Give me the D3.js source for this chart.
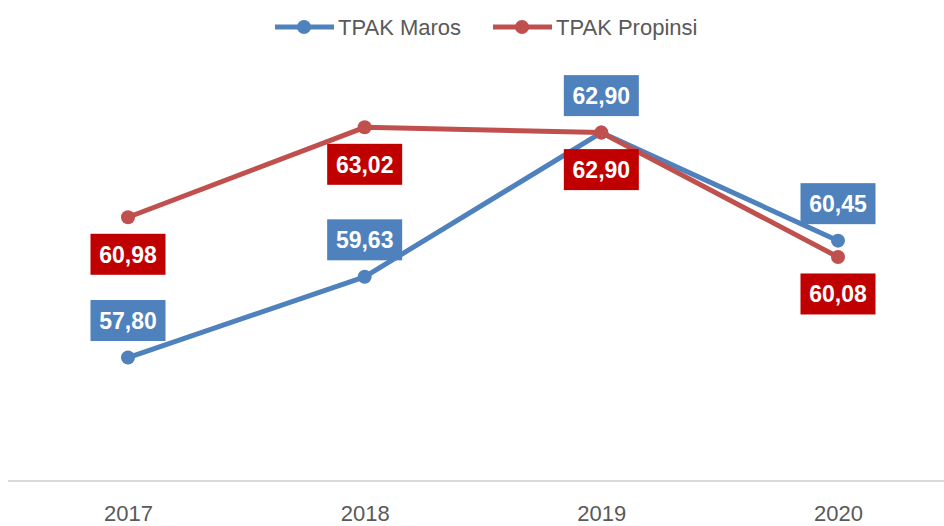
<!DOCTYPE html>
<html>
<head>
<meta charset="utf-8">
<script src="https://cdn.jsdelivr.net/npm/d3@7"></script>
<style>
  body { margin: 0; background: #fff; }
  text { font-family: 'Liberation Sans', Arial, sans-serif; }
</style>
</head>
<body>
<div id="chart"></div>
<script>
const years = ['2017', '2018', '2019', '2020']
const maros = [57.80, 59.63, 62.90, 60.45]
const propinsi = [60.98, 63.02, 62.90, 60.08]
const seriesNames = ['TPAK Maros', 'TPAK Propinsi']

const width = 944
const height = 526

const svg = d3
  .select('#chart')
  .append('svg')
  .attr('width', width)
  .attr('height', height)

const xPositionScale = d3.scalePoint().domain(years).range([128, 838])
const yPositionScale = d3.scaleLinear().domain([55, 65]).range([481, 40])

const series = [
  { name: seriesNames[0], values: maros, line: '#4F81BD', box: '#4F81BD', dir: -1 },
  { name: seriesNames[1], values: propinsi, line: '#C0504D', box: '#C00000', dir: 1 }
]

// x axis line
const xAxis = d3.axisBottom(xPositionScale).tickSize(0).tickPadding(24)
const axisG = svg
  .append('g')
  .attr('transform', 'translate(0,' + yPositionScale(55) + ')')
  .call(xAxis)
axisG.select('.domain').remove()
axisG
  .insert('line', ':first-child')
  .attr('x1', 8)
  .attr('x2', 944)
  .attr('stroke', '#d9d9d9')
  .attr('stroke-width', 2)
axisG
  .selectAll('.tick text')
  .attr('font-size', 22)
  .attr('fill', '#595959')
  .attr('font-family', "'Liberation Sans', Arial, sans-serif")

const line = d3
  .line()
  .x((d, i) => xPositionScale(years[i]))
  .y(d => yPositionScale(d))

series.forEach(s => {
  svg
    .append('path')
    .datum(s.values)
    .attr('d', line)
    .attr('fill', 'none')
    .attr('stroke', s.line)
    .attr('stroke-width', 5)
    .attr('stroke-linejoin', 'round')

  svg
    .selectAll('.dot-' + s.dir)
    .data(s.values)
    .enter()
    .append('circle')
    .attr('cx', (d, i) => xPositionScale(years[i]))
    .attr('cy', d => yPositionScale(d))
    .attr('r', 7)
    .attr('fill', s.line)
})

// data labels
series.forEach(s => {
  const g = svg
    .selectAll('.label-' + s.dir)
    .data(s.values)
    .enter()
    .append('g')
    .attr('transform', (d, i) =>
      'translate(' + xPositionScale(years[i]) + ',' + (yPositionScale(d) + s.dir * 37) + ')')

  g.append('rect')
    .attr('x', -37.5)
    .attr('y', -20.5)
    .attr('width', 75)
    .attr('height', 41)
    .attr('fill', s.box)

  g.append('text')
    .attr('text-anchor', 'middle')
    .attr('dy', '0.36em')
    .attr('fill', '#fff')
    .attr('font-weight', 'bold')
    .attr('font-size', 23)
    .text(d => d.toFixed(2).replace('.', ','))
})

// legend
const legendX = [275, 493]
series.forEach((s, i) => {
  const lg = svg.append('g').attr('transform', 'translate(' + legendX[i] + ',27)')
  lg.append('line')
    .attr('x1', 0)
    .attr('x2', 59)
    .attr('stroke', s.line)
    .attr('stroke-width', 5)
  lg.append('circle')
    .attr('cx', 29)
    .attr('r', 7)
    .attr('fill', s.line)
  lg.append('text')
    .attr('x', 63)
    .attr('dy', '0.36em')
    .attr('font-size', 22)
    .attr('fill', '#595959')
    .text(s.name)
})
</script>
</body>
</html>
